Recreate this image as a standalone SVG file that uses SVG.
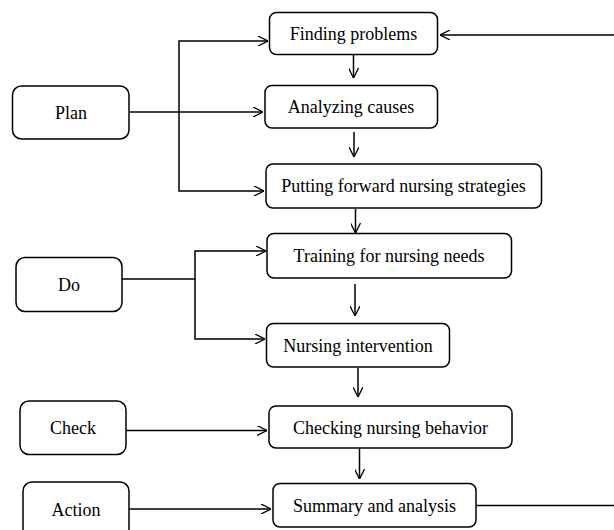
<svg xmlns="http://www.w3.org/2000/svg" width="614" height="530" viewBox="0 0 614 530">
<style>
.box{fill:#fff;stroke:#000;stroke-width:1.5}
.t{font-family:"Liberation Serif","Times New Roman",serif;font-size:18px;fill:#000;text-anchor:middle;dominant-baseline:central}
.c{fill:none;stroke:#000;stroke-width:1.5}
</style>
<defs>
<marker id="a" viewBox="0 0 10 10" refX="10" refY="5" markerWidth="10" markerHeight="10" markerUnits="userSpaceOnUse" orient="auto">
<path d="M0,0 L10,5 L0,10" fill="none" stroke="#000" stroke-width="1.3"/>
</marker>
</defs>
<rect width="614" height="530" fill="#fff"/>
<g id="connectors">
<path class="c" d="M130,112 H263" marker-end="url(#a)"/>
<path class="c" d="M179,112 V41 H268" marker-end="url(#a)"/>
<path class="c" d="M179,112 V191 H264" marker-end="url(#a)"/>
<path class="c" d="M614,35 H440" marker-end="url(#a)"/>
<path class="c" d="M353.5,55 V78" marker-end="url(#a)"/>
<path class="c" d="M354,132 V157" marker-end="url(#a)"/>
<path class="c" d="M355.5,209 V233" marker-end="url(#a)"/>
<path class="c" d="M122,279 H195"/>
<path class="c" d="M195,279 V251 H266" marker-end="url(#a)"/>
<path class="c" d="M195,279 V339 H265" marker-end="url(#a)"/>
<path class="c" d="M355,284 V316" marker-end="url(#a)"/>
<path class="c" d="M358,368 V397" marker-end="url(#a)"/>
<path class="c" d="M126,430.5 H267" marker-end="url(#a)"/>
<path class="c" d="M359.5,448.5 V479" marker-end="url(#a)"/>
<path class="c" d="M129,509 H271" marker-end="url(#a)"/>
<path class="c" d="M476,505.5 H614"/>
</g>
<g id="plan"><rect class="box" x="12.5" y="86" width="116.5" height="53" rx="9"/><text class="t" x="71" y="113">Plan</text></g>
<g id="do"><rect class="box" x="16" y="257.5" width="106" height="54" rx="9"/><text class="t" x="69" y="285">Do</text></g>
<g id="check"><rect class="box" x="20" y="401" width="106" height="53.5" rx="9"/><text class="t" x="73" y="428">Check</text></g>
<g id="action"><rect class="box" x="23" y="482" width="106" height="56" rx="9"/><text class="t" x="76" y="510">Action</text></g>
<g id="finding"><rect class="box" x="269.5" y="12.5" width="168" height="42" rx="7"/><text class="t" x="353.5" y="34">Finding problems</text></g>
<g id="analyzing"><rect class="box" x="265" y="85.5" width="172.5" height="42.5" rx="7"/><text class="t" x="351" y="107">Analyzing causes</text></g>
<g id="putting"><rect class="box" x="266" y="164" width="275.5" height="44" rx="7"/><text class="t" x="403.5" y="186">Putting forward nursing strategies</text></g>
<g id="training"><rect class="box" x="267" y="233.5" width="244.5" height="44.5" rx="7"/><text class="t" x="389" y="256">Training for nursing needs</text></g>
<g id="intervention"><rect class="box" x="266.5" y="323.5" width="183" height="43.5" rx="7"/><text class="t" x="358" y="345.5">Nursing intervention</text></g>
<g id="checking"><rect class="box" x="269" y="406" width="243" height="42" rx="7"/><text class="t" x="390.5" y="427.5">Checking nursing behavior</text></g>
<g id="summary"><rect class="box" x="273" y="483.5" width="203" height="43.5" rx="7"/><text class="t" x="374.5" y="505.5">Summary and analysis</text></g>
</svg>
